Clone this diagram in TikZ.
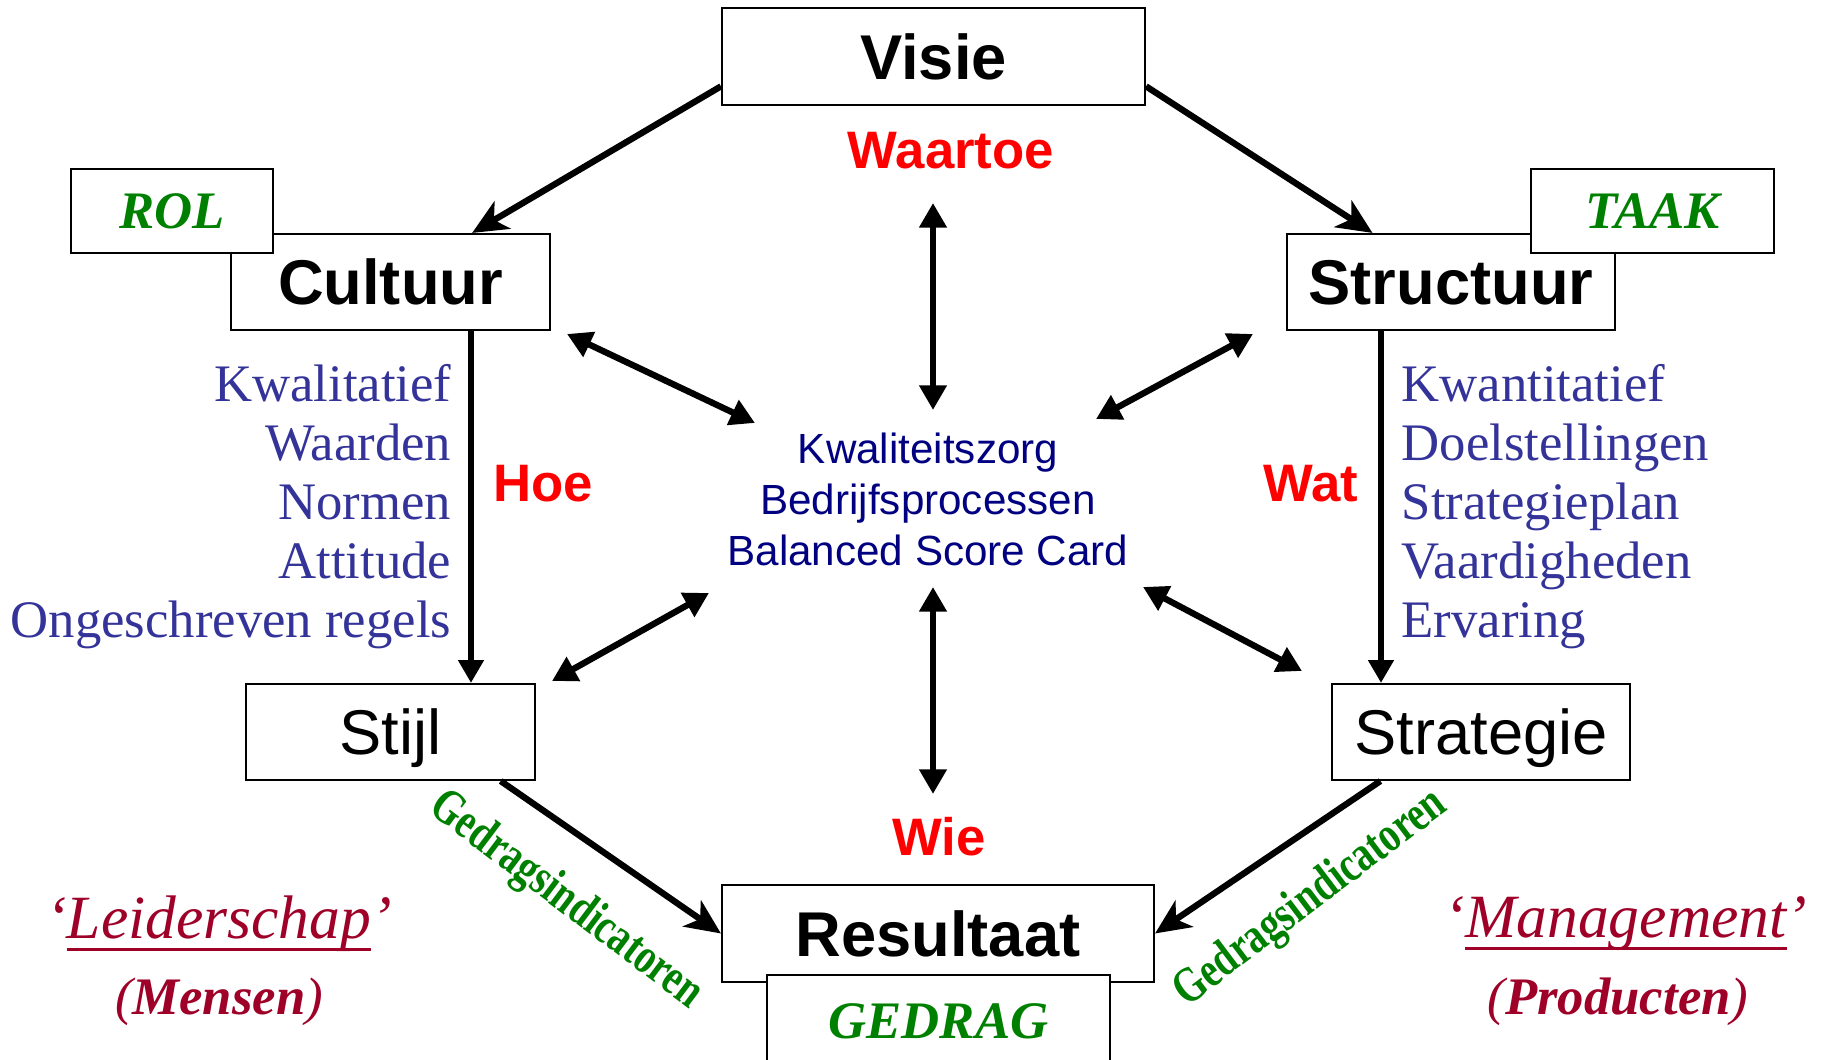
\documentclass[tikz,border=0pt]{standalone}
\usepackage{fontspec}
\setmainfont{Liberation Serif}
\setsansfont{Liberation Sans}
\usetikzlibrary{arrows.meta}
\definecolor{kernblauw}{RGB}{0,0,128}
\definecolor{lijstblauw}{RGB}{51,51,153}
\definecolor{rood}{RGB}{255,0,0}
\definecolor{groen}{RGB}{0,128,0}
\definecolor{wijnrood}{RGB}{158,0,40}
\newcommand{\onderlijn}[1]{\setbox0\hbox{#1}\rlap{\rule[-3.4pt]{\wd0}{0.8pt}}\box0}
\tikzset{
 blok/.style={draw, line width=0.6pt, fill=white, inner sep=0pt, text depth=0pt,
   font=\sffamily\fontsize{18}{20}\selectfont},
 hoofd/.style={blok, font=\sffamily\bfseries\fontsize{18}{20}\selectfont},
 etiket/.style={blok, text=groen, font=\bfseries\itshape\fontsize{15}{18}\selectfont},
 vraag/.style={text=rood, font=\sffamily\bfseries\fontsize{15}{18}\selectfont},
 kern/.style={text=kernblauw, align=center, font=\sffamily\fontsize{12}{14.5}\selectfont},
 lijst/.style={text=lijstblauw, inner sep=0pt, font=\fontsize{15}{16.8}\selectfont},
 indicator/.style={text=groen, font=\bfseries\fontsize{11}{13}\selectfont},
 hoek/.style={text=wijnrood, font=\itshape\fontsize{17.5}{20}\selectfont},
 hoeksub/.style={text=wijnrood, font=\itshape\fontsize{15}{18}\selectfont},
 pijl/.style={line width=1.8pt, -{Stealth[length=10pt,width=9pt,inset=2.8pt]}},
 recht/.style={line width=1.8pt, -{Triangle[length=6.5pt,width=7pt]}},
 dubbel/.style={line width=1.8pt, {Triangle[length=7pt,width=7.5pt]}-{Triangle[length=7pt,width=7.5pt]}}
}
\begin{document}
\begin{tikzpicture}
  \useasboundingbox (0,0) rectangle (18.23,10.60);
  % de zeven blokken
  \node[hoofd, minimum width=4.23cm, minimum height=0.97cm] (visie) at (9.335,10.035) {Visie};
  \node[hoofd, minimum width=3.19cm, minimum height=0.96cm] (cultuur) at (3.905,7.78) {Cultuur};
  \node[etiket, minimum width=2.02cm, minimum height=0.84cm] (rol) at (1.72,8.49) {ROL};
  \node[hoofd, minimum width=3.28cm, minimum height=0.96cm] (structuur) at (14.51,7.78) {Structuur};
  \node[etiket, minimum width=2.43cm, minimum height=0.84cm] (taak) at (16.525,8.49) {TAAK};
  \node[blok, minimum width=2.89cm, minimum height=0.96cm] (stijl) at (3.905,3.28) {Stijl};
  \node[blok, minimum width=2.98cm, minimum height=0.96cm] (strategie) at (14.81,3.28) {Strategie};
  \node[hoofd, minimum width=4.32cm, minimum height=0.97cm] (resultaat) at (9.38,1.265) {Resultaat};
  \node[etiket, minimum width=3.43cm, minimum height=0.93cm] (gedrag) at (9.385,0.385) {GEDRAG};

  \node[vraag] (waartoe) at (9.51,9.09) {Waartoe};
  \node[vraag] (hoe) at (5.43,5.76) {Hoe};
  \node[vraag] (wat) at (13.11,5.76) {Wat};
  \node[vraag] (wie) at (9.39,2.23) {Wie};

  \node[kern] (midden) at (9.28,5.61) {Kwaliteitszorg\\Bedrijfsprocessen\\Balanced Score Card};

  \node[lijst, anchor=east, align=right] (kwalitatief) at (4.52,5.53)
    {Kwalitatief\\Waarden\\Normen\\Attitude\\Ongeschreven regels};
  \node[lijst, anchor=west, align=left] (kwantitatief) at (14.01,5.53)
    {Kwantitatief\\Doelstellingen\\Strategieplan\\Vaardigheden\\Ervaring};

  \node[hoek] (leiderschap) at (2.19,1.36) {‘\onderlijn{Leiderschap}’};
  \node[hoeksub] (mensen) at (2.19,0.58) {(\textbf{Mensen})};
  \node[hoek] (management) at (16.26,1.36) {‘\onderlijn{Management}’};
  \node[hoeksub] (producten) at (16.18,0.58) {(\textbf{Producten})};

  \node[indicator, rotate=-37, yscale=1.3] (indlinks) at (5.66,1.59) {Gedragsindicatoren};
  \node[indicator, rotate=37, yscale=1.3] (indrechts) at (13.11,1.61) {Gedragsindicatoren};

  % vrije einden van de dubbele pijlen
  \coordinate (v1) at (9.33,8.57);  \coordinate (v2) at (9.33,6.50);
  \coordinate (w1) at (9.33,4.73);  \coordinate (w2) at (9.33,2.66);
  \coordinate (c1) at (5.67,7.26);  \coordinate (c2) at (7.55,6.37);
  \coordinate (s1) at (12.53,7.26); \coordinate (s2) at (10.96,6.41);
  \coordinate (t1) at (5.52,3.79);  \coordinate (t2) at (7.09,4.67);
  \coordinate (g1) at (13.02,3.89); \coordinate (g2) at (11.43,4.73);

  \draw[pijl] (visie.188) -- (cultuur.31);
  \draw[pijl] (visie.-8) -- (structuur.148);
  \draw[recht] ([xshift=8.05mm]cultuur.south) -- ([xshift=8.05mm]stijl.north);
  \draw[recht] ([xshift=-7mm]structuur.south) -- ([xshift=-7mm]structuur.south |- strategie.north);
  \draw[pijl] (stijl.-24) -- (resultaat.west);
  \draw[pijl] (strategie.206) -- (resultaat.east);

  \draw[dubbel] (v1) -- (v2);
  \draw[dubbel] (w1) -- (w2);
  \draw[dubbel] (c1) -- (c2);
  \draw[dubbel] (s1) -- (s2);
  \draw[dubbel] (t1) -- (t2);
  \draw[dubbel] (g1) -- (g2);
\end{tikzpicture}
\end{document}
